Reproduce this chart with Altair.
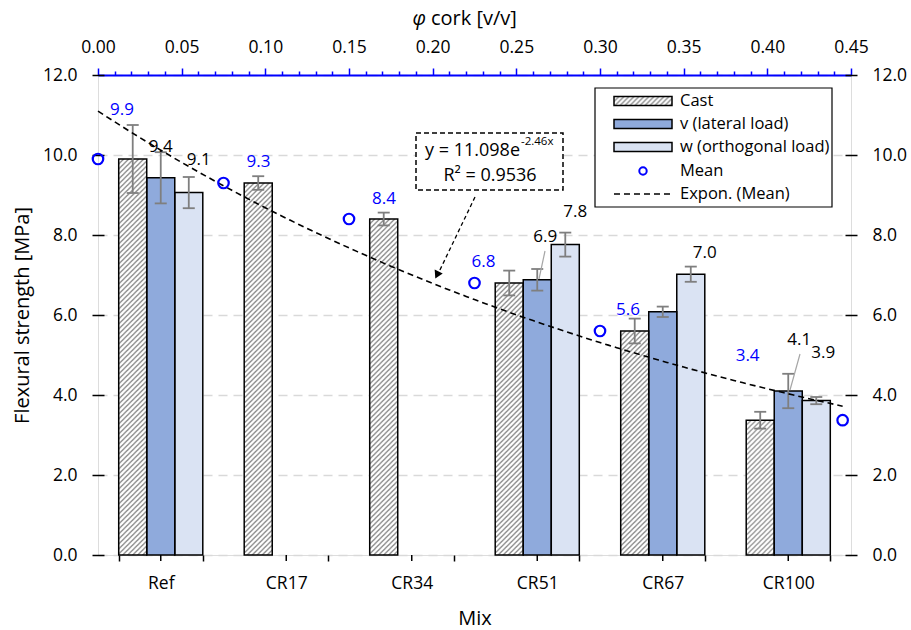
import altair as alt
import pandas as pd
import urllib.parse

# ---------------- data ----------------
mixes = ["Ref", "CR17", "CR34", "CR51", "CR67", "CR100"]
series = ["Cast", "v (lateral load)", "w (orthogonal load)"]

cast_vals = [9.9, 9.3, 8.4, 6.8, 5.6, 3.37]
cast_err = [0.85, 0.17, 0.16, 0.31, 0.31, 0.21]
v_vals = [9.43, None, None, 6.88, 6.08, 4.1]
v_err = [0.64, None, None, 0.27, 0.13, 0.43]
w_vals = [9.06, None, None, 7.76, 7.02, 3.86]
w_err = [0.39, None, None, 0.30, 0.19, 0.09]

phi = [0.0, 0.075, 0.15, 0.225, 0.30, 0.445]
mean_vals = [9.9, 9.3, 8.4, 6.8, 5.6, 3.37]

y_ticks = [0, 2, 4, 6, 8, 10, 12]
phi_ticks = [round(i / 100, 2) for i in range(46)]

eq_text = "y = 11.098e"
eq_exp = "-2.46x"
r2_text = "R² = 0.9536"
legend_labels = series + ["Mean", "Expon. (Mean)"]

# ---------------- tables ----------------
rows = []
for s, vals, errs in zip(series, [cast_vals, v_vals, w_vals], [cast_err, v_err, w_err]):
    for m, val, e in zip(mixes, vals, errs):
        if val is None:
            continue
        rows.append(dict(Mix=m, Series=s, value=val, lo=val - e, hi=val + e))
bars_df = pd.DataFrame(rows)
mean_df = pd.DataFrame(dict(Mix=mixes, phi=phi, mean=mean_vals))
one = pd.DataFrame({"k": [0]})

FONT = "Open Sans"
FS = 17          # data labels
TFS = 17.5       # tick labels
TITLE_FS = 20    # axis titles
LFS = 16.5       # legend
BLUE = "#0000ff"
GRAY = "#7f7f7f"

hatch_svg = (
    "<svg xmlns='http://www.w3.org/2000/svg' width='100%' height='100%'>"
    "<defs><pattern id='h' patternUnits='userSpaceOnUse' width='5' height='5'>"
    "<rect width='5' height='5' fill='white'/>"
    "<path d='M-1.25,1.25 L1.25,-1.25 M0,5 L5,0 M3.75,6.25 L6.25,3.75' "
    "stroke='#8c8c8c' stroke-width='1.3'/>"
    "</pattern></defs><rect width='100%' height='100%' fill='url(#h)'/></svg>"
)
hatch_url = "data:image/svg+xml;charset=utf-8," + urllib.parse.quote(hatch_svg)

# ---------------- scales & axes ----------------
x_scale = alt.Scale(domain=mixes, paddingInner=0.33, paddingOuter=0.165)
xo_scale = alt.Scale(domain=series, paddingInner=0, paddingOuter=0)
y_scale = alt.Scale(domain=[0, 12], nice=False, zero=True)
phi_scale = alt.Scale(domain=[0, 0.45], nice=False, zero=True)

x_axis = alt.Axis(orient="bottom", title="Mix", tickBand="extent", tickSize=6,
                  tickColor="black", tickWidth=1.5, domain=False, labelAngle=0,
                  labelPadding=13, titlePadding=17, labelFont=FONT, titleFont=FONT,
                  labelFontSize=TFS, titleFontSize=TITLE_FS, titleFontWeight="normal",
                  labelColor="black", titleColor="black")
y_axis_left = alt.Axis(orient="left", title="Flexural strength [MPa]", values=y_ticks,
                       format=".1f", offset=-6, tickSize=12, tickColor="black",
                       tickWidth=1.5, domain=False, labelPadding=15, titlePadding=10,
                       grid=True, gridDash=[9, 6], gridColor="#d9d9d9", gridWidth=1.5,
                       labelFont=FONT, titleFont=FONT, labelFontSize=TFS,
                       titleFontSize=TITLE_FS, titleFontWeight="normal",
                       labelColor="black", titleColor="black")
y_axis_right = alt.Axis(orient="right", title=None, values=y_ticks, format=".1f",
                        offset=-6, tickSize=12, tickColor="black", tickWidth=1.5,
                        domain=False, labelPadding=15, grid=False, labelFont=FONT,
                        labelFontSize=TFS, labelColor="black")
major_test = "round(datum.value*100) % 5 == 0"
phi_axis = alt.Axis(orient="top", title=None, values=phi_ticks,
                    labelExpr=major_test + " ? format(datum.value, '.2f') : ''",
                    labelOverlap=False, labelFlush=False, domainColor=BLUE, domainWidth=2,
                    tickColor=BLUE, tickWidth=1.5,
                    tickSize={"condition": {"test": major_test, "value": 7}, "value": 4},
                    labelPadding=12, labelFont=FONT, labelFontSize=TFS, labelColor="black",
                    grid=False)

X = alt.X("Mix:N", scale=x_scale, axis=x_axis)
XO = alt.XOffset("Series:N", scale=xo_scale)
PX = lambda f: alt.X(f, scale=phi_scale, axis=phi_axis)
PY = lambda f: alt.Y(f, scale=y_scale, axis=y_axis_right)
BY = lambda f: alt.Y(f, scale=y_scale, axis=y_axis_left)

# ---------------- bar group (bottom axis, left axis) ----------------
bb = alt.Chart(bars_df)
bars_fill = bb.mark_bar(strokeWidth=0).encode(
    x=X, xOffset=XO, y=BY("value:Q"),
    fill=alt.Fill("Series:N", scale=alt.Scale(domain=series,
                  range=["white", "#8faadc", "#dae3f3"]), legend=None))
hatch = bb.transform_filter(alt.datum.Series == "Cast").mark_image(aspect=False).encode(
    x=X, xOffset=XO, y=BY("value:Q"), y2=alt.datum(0), url=alt.value(hatch_url))
outline = bb.mark_bar(fillOpacity=0, stroke="black", strokeWidth=1.5).encode(
    x=X, xOffset=XO, y=BY("value:Q"))
err = bb.mark_rule(color=GRAY, strokeWidth=1.8).encode(
    x=X, xOffset=XO, y=BY("lo:Q"), y2="hi:Q")
cap_lo = bb.mark_tick(color=GRAY, size=12, thickness=1.8, orient="horizontal", opacity=1).encode(
    x=X, xOffset=XO, y=BY("lo:Q"))
cap_hi = bb.mark_tick(color=GRAY, size=12, thickness=1.8, orient="horizontal", opacity=1).encode(
    x=X, xOffset=XO, y=BY("hi:Q"))
center_ticks = alt.Chart(mean_df).mark_rule(color="black", strokeWidth=1.5).encode(
    x=X, y=alt.value(480), y2=alt.value(486))

black_label_offsets = {
    ("v (lateral load)", "Ref"): (0, -31),
    ("w (orthogonal load)", "Ref"): (10, -33),
    ("v (lateral load)", "CR51"): (8, -43),
    ("w (orthogonal load)", "CR51"): (10, -33),
    ("w (orthogonal load)", "CR67"): (14, -21),
    ("v (lateral load)", "CR100"): (11, -51),
    ("w (orthogonal load)", "CR100"): (7, -48),
}
black_labels = []
for (s, m), (dx, dy) in black_label_offsets.items():
    black_labels.append(
        bb.transform_filter((alt.datum.Series == s) & (alt.datum.Mix == m))
        .mark_text(dx=dx, dy=dy, font=FONT, fontSize=FS, color="black", baseline="middle")
        .encode(x=X, xOffset=XO, y=BY("value:Q"),
                text=alt.Text("value:Q", format=".1f")))

bar_group = alt.layer(bars_fill, hatch, outline, err, cap_lo, cap_hi, center_ticks,
                      *black_labels)

# ---------------- mean / trend group (top axis, right axis) ----------------
seq_stop = max(phi) + 0.0025
trend = (alt.Chart(mean_df)
         .transform_calculate(ly="log(datum.mean)")
         .transform_regression("phi", "ly", method="linear", params=True)
         .transform_calculate(xs=f"sequence(0, {seq_stop}, 0.005)")
         .transform_flatten(["xs"])
         .transform_calculate(fit="exp(datum.coef[0] + datum.coef[1] * datum.xs)")
         .mark_line(color="black", strokeDash=[6, 4], strokeWidth=1.6)
         .encode(x=PX("xs:Q"), y=PY("fit:Q")))
points = alt.Chart(mean_df).mark_point(shape="circle", filled=False, color=BLUE,
                                       strokeWidth=2.2, size=110, opacity=1).encode(
    x=PX("phi:Q"), y=PY("mean:Q"))

blue_label_offsets = {"Ref": (24, -49), "CR17": (35, -21), "CR34": (35, -20),
                      "CR51": (9, -21), "CR67": (28, -21), "CR100": (-95, -64)}
blue_labels = []
for m, (dx, dy) in blue_label_offsets.items():
    blue_labels.append(
        alt.Chart(mean_df).transform_filter(alt.datum.Mix == m)
        .mark_text(dx=dx, dy=dy, font=FONT, fontSize=FS, color=BLUE, baseline="middle")
        .encode(x=PX("phi:Q"), y=PY("mean:Q"), text=alt.Text("mean:Q", format=".1f")))

phi_group = alt.layer(trend, points, *blue_labels)

# ---------------- annotations & legend (pixel placed decorations) ----------------
b1 = alt.Chart(one)


def rect(x, x2, y, y2, **kw):
    return b1.mark_rect(**kw).encode(x=alt.value(x), x2=alt.value(x2),
                                     y=alt.value(y), y2=alt.value(y2))


def seg(x, y, x2, y2, **kw):
    return b1.mark_rule(**kw).encode(x=alt.value(x), x2=alt.value(x2),
                                     y=alt.value(y), y2=alt.value(y2))


def txt(x, y, text, **kw):
    kw.setdefault("font", FONT)
    kw.setdefault("fontSize", FS)
    kw.setdefault("color", "black")
    kw.setdefault("baseline", "middle")
    return b1.mark_text(text=text, **kw).encode(x=alt.value(x), y=alt.value(y))


deco = [
    # top axis title
    txt(328, -56, "φ", align="right", fontStyle="italic", fontSize=TITLE_FS),
    txt(333, -56, " cork [v/v]", align="left", fontSize=TITLE_FS),
    # leader lines
    seg(447, 176, 441, 204, color="#a6a6a6", strokeWidth=1.2),
    seg(702, 279, 692, 315, color="#a6a6a6", strokeWidth=1.2),
    # equation box + arrow
    rect(318, 465, 58, 115, fill="white", stroke="black", strokeWidth=1.5,
         strokeDash=[5, 3]),
    txt(422, 76, eq_text, align="right", fontSize=18),
    txt(423, 67, eq_exp, align="left", fontSize=11.5),
    txt(392, 101, r2_text, align="center", fontSize=18),
    seg(377, 122, 340, 199, color="black", strokeWidth=1.3, strokeDash=[4, 3]),
    b1.mark_point(shape="triangle-down", filled=True, color="black", size=80,
                  angle=26, opacity=1).encode(x=alt.value(339), y=alt.value(200)),
    # legend
    rect(497, 734, 13, 132, fill="white", stroke="black", strokeWidth=1.2),
]
leg_y = [26, 49, 72, 96, 119]
leg_fill = ["white", "#8faadc", "#dae3f3"]
for i in range(3):
    deco.append(rect(516, 574, leg_y[i] - 4.5, leg_y[i] + 4.5, fill=leg_fill[i]))
    if i == 0:
        deco.append(b1.mark_image(aspect=False).encode(
            x=alt.value(516), x2=alt.value(574), y=alt.value(leg_y[i] - 4.5),
            y2=alt.value(leg_y[i] + 4.5), url=alt.value(hatch_url)))
    deco.append(rect(516, 574, leg_y[i] - 4.5, leg_y[i] + 4.5, fillOpacity=0,
                     stroke="black", strokeWidth=1.5))
deco.append(b1.mark_point(shape="circle", filled=False, color=BLUE, strokeWidth=2,
                          size=55, opacity=1).encode(x=alt.value(545), y=alt.value(leg_y[3])))
deco.append(seg(516, leg_y[4], 574, leg_y[4], color="black", strokeWidth=1.6,
                strokeDash=[6, 4]))
for i, lab in enumerate(legend_labels):
    deco.append(txt(582, leg_y[i], lab, align="left", fontSize=LFS))

chart = (alt.layer(bar_group, phi_group, *deco)
         .resolve_scale(x="independent", y="independent")
         .properties(width=753, height=480,
                     padding={"left": 98, "top": 75, "right": 60, "bottom": 75},
                     autosize=alt.AutoSizeParams(type="none"))
         .configure_view(stroke="black", strokeWidth=1.5)
         .configure_axis(titleFont=FONT, titleFontSize=TITLE_FS, titleFontWeight="normal",
                         labelFont=FONT, labelFontSize=TFS, titleColor="black",
                         labelColor="black")
         .configure(background="white"))

chart.save("out.html", embed_options={"renderer": "svg", "actions": False})
